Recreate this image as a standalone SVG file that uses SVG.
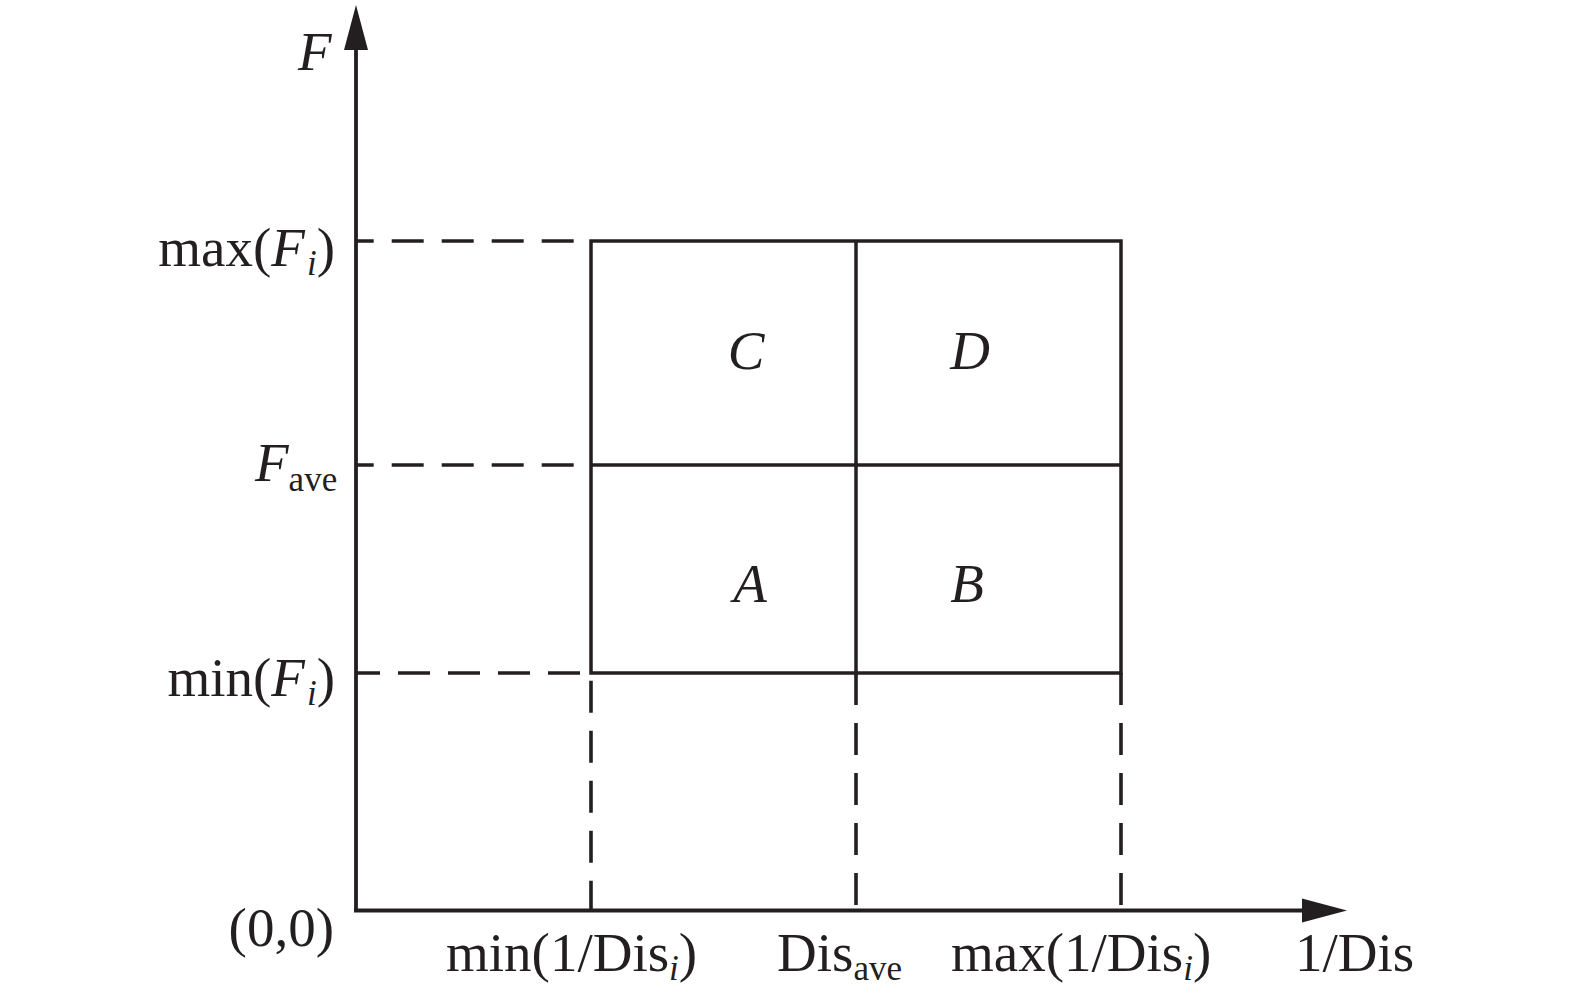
<svg xmlns="http://www.w3.org/2000/svg" width="1575" height="994" viewBox="0 0 1575 994">
<style>
.t{font-family:"Liberation Serif","Times New Roman",serif;font-size:55px;fill:#231f20}
.it{font-style:italic}
.axis{stroke:#231f20;stroke-width:3.8;fill:none}
.box{stroke:#231f20;stroke-width:3.5;fill:none}
.dash{stroke:#231f20;stroke-width:3.6;fill:none;stroke-dasharray:32 18}
</style>
<rect width="1575" height="994" fill="#ffffff"/>
<g id="connectors">
  <line class="axis" x1="356" y1="912" x2="356" y2="45"/>
  <polygon points="356,5 344,50 368,50" fill="#231f20"/>
  <line class="axis" x1="354" y1="910.5" x2="1308" y2="910.5"/>
  <polygon points="1347,910.5 1302,898.5 1302,922.5" fill="#231f20"/>
  <line class="dash" x1="356" y1="241" x2="576" y2="241" stroke-dashoffset="14.3"/>
  <line class="dash" x1="356" y1="465" x2="576" y2="465" stroke-dashoffset="14.3"/>
  <line class="dash" x1="356" y1="673" x2="582" y2="673" stroke-dashoffset="8"/>
  <line class="dash" x1="591" y1="680.7" x2="591" y2="910"/>
  <line class="dash" x1="856" y1="673" x2="856" y2="906"/>
  <line class="dash" x1="1121" y1="673" x2="1121" y2="906"/>
</g>
<g id="grid">
  <rect class="box" x="591" y="241" width="530" height="432"/>
  <line class="box" x1="856" y1="241" x2="856" y2="673"/>
  <line class="box" x1="591" y1="465" x2="1121" y2="465"/>
</g>
<g id="region-C"><text class="t it" x="746" y="369" text-anchor="middle">C</text></g>
<g id="region-D"><text class="t it" x="970" y="369" text-anchor="middle">D</text></g>
<g id="region-A"><text class="t it" x="750" y="602" text-anchor="middle">A</text></g>
<g id="region-B"><text class="t it" x="967" y="602" text-anchor="middle">B</text></g>
<g id="labels">
  <text class="t it" x="298" y="70">F</text>
  <text class="t" x="335" y="266" text-anchor="end">max(<tspan class="it">F</tspan><tspan class="it" font-size="35" dy="9" dx="2">i</tspan><tspan dy="-9">)</tspan></text>
  <text class="t" x="255" y="481"><tspan class="it">F</tspan><tspan font-size="35" dy="10">ave</tspan></text>
  <text class="t" x="335" y="696" text-anchor="end">min(<tspan class="it">F</tspan><tspan class="it" font-size="35" dy="9" dx="2">i</tspan><tspan dy="-9">)</tspan></text>
  <text class="t" x="334" y="946" text-anchor="end">(0,0)</text>
  <text class="t" x="446" y="971">min(1/Dis<tspan class="it" font-size="35" dy="9">i</tspan><tspan dy="-9">)</tspan></text>
  <text class="t" x="777" y="971">Dis<tspan font-size="35" dy="9">ave</tspan></text>
  <text class="t" x="951" y="971">max(1/Dis<tspan class="it" font-size="35" dy="9">i</tspan><tspan dy="-9">)</tspan></text>
  <text class="t" x="1295" y="971">1/Dis</text>
</g>
</svg>
